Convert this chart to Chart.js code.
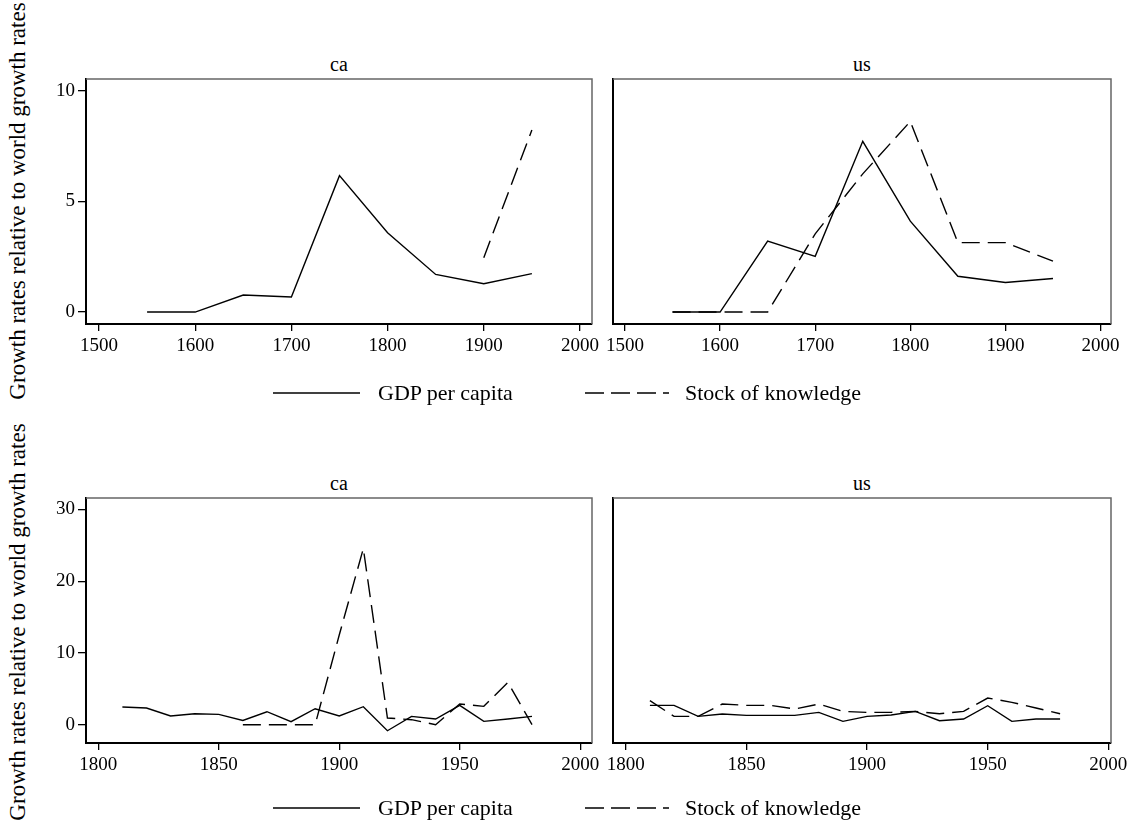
<!DOCTYPE html>
<html>
<head>
<meta charset="utf-8">
<script src="https://cdn.jsdelivr.net/npm/chart.js@4.4.1/dist/chart.umd.min.js"></script>
<style>
body { margin:0; background:#fff; width:1134px; height:825px; position:relative; overflow:hidden; font-family:'Liberation Serif','Times New Roman',serif; color:#000; }
canvas { position:absolute; }
.ptitle { position:absolute; font-size:20px; transform:translate(-50%,-50%); white-space:nowrap; }
.ytitle { position:absolute; font-size:23px; white-space:nowrap; transform:translate(-50%,-50%) rotate(-90deg); }
.leg { position:absolute; font-size:22px; transform:translateY(-50%); white-space:nowrap; }
svg { position:absolute; }
</style>
</head>
<body>
<div class="ytitle" style="left:18px;top:201px">Growth rates relative to world growth rates</div>
<div class="ytitle" style="left:18px;top:622px">Growth rates relative to world growth rates</div>

<div class="ptitle" style="left:339px;top:64px">ca</div>
<div class="ptitle" style="left:862px;top:64px">us</div>
<div class="ptitle" style="left:339px;top:483px">ca</div>
<div class="ptitle" style="left:862px;top:483px">us</div>

<canvas id="c1" width="576" height="297" style="left:30px;top:59px"></canvas>
<canvas id="c2" width="539" height="297" style="left:595px;top:59px"></canvas>
<canvas id="c3" width="576" height="297" style="left:30px;top:478px"></canvas>
<canvas id="c4" width="539" height="297" style="left:595px;top:478px"></canvas>

<svg width="1134" height="825" style="left:0;top:0;pointer-events:none">
  <line x1="273" y1="393" x2="360" y2="393" stroke="#000" stroke-width="1.5"/>
  <line x1="585" y1="393" x2="669" y2="393" stroke="#000" stroke-width="1.5" stroke-dasharray="19 7"/>
  <line x1="273" y1="808" x2="360" y2="808" stroke="#000" stroke-width="1.5"/>
  <line x1="585" y1="808" x2="669" y2="808" stroke="#000" stroke-width="1.5" stroke-dasharray="19 7"/>
</svg>
<div class="leg" style="left:378px;top:393px">GDP per capita</div>
<div class="leg" style="left:685px;top:393px">Stock of knowledge</div>
<div class="leg" style="left:378px;top:808px">GDP per capita</div>
<div class="leg" style="left:685px;top:808px">Stock of knowledge</div>

<script>
// top row: 50-year periods
var yearsTop = [1550, 1600, 1650, 1700, 1750, 1800, 1850, 1900, 1950];
var caGdpTop = [0, 0, 0.77, 0.68, 6.17, 3.59, 1.70, 1.28, 1.74];
var caKnowTop = [null, null, null, null, null, null, null, 2.46, 8.23];
var usGdpTop = [0, 0, 3.21, 2.52, 7.72, 4.11, 1.62, 1.34, 1.52];
var usKnowTop = [0, 0, 0, 3.54, 6.25, 8.62, 3.14, 3.14, 2.30];

// bottom row: decades
var yearsBot = [1810, 1820, 1830, 1840, 1850, 1860, 1870, 1880, 1890, 1900, 1910, 1920, 1930, 1940, 1950, 1960, 1970, 1980];
var caGdpBot = [2.47, 2.33, 1.21, 1.53, 1.44, 0.60, 1.81, 0.42, 2.23, 1.21, 2.51, -0.84, 1.16, 0.79, 2.70, 0.47, 0.80, 1.16];
var caKnowBot = [null, null, null, null, null, 0, 0, 0, 0, 12.5, 24.56, 0.93, 0.7, 0, 2.88, 2.56, 5.9, 0];
var usGdpBot = [2.69, 2.69, 1.16, 1.49, 1.30, 1.30, 1.30, 1.72, 0.47, 1.16, 1.35, 1.86, 0.56, 0.79, 2.65, 0.47, 0.79, 0.79];
var usKnowBot = [3.35, 1.16, 1.16, 2.88, 2.70, 2.70, 2.19, 2.88, 1.86, 1.72, 1.72, 1.86, 1.53, 1.86, 3.72, 3.12, 2.33, 1.53];

var xTicksTop = [1500, 1600, 1700, 1800, 1900, 2000];
var xTicksBot = [1800, 1850, 1900, 1950, 2000];
var yTicksTop = [0, 5, 10];
var yTicksBot = [0, 10, 20, 30];

Chart.defaults.font.family = '"Liberation Serif", "Times New Roman", serif';
var FONT = { family: '"Liberation Serif", "Times New Roman", serif', size: 19 };

function pts(xs, ys) {
    return xs.map(function (x, i) { return { x: x, y: ys[i] }; });
}

// grey top and right edges of the plot box
var boxEdges = {
    id: 'boxEdges',
    beforeDatasetsDraw: function (chart) {
        var a = chart.chartArea, ctx = chart.ctx;
        ctx.save();
        ctx.strokeStyle = '#666';
        ctx.lineWidth = 1.5;
        ctx.beginPath();
        ctx.moveTo(a.left, a.top);
        ctx.lineTo(a.right, a.top);
        ctx.lineTo(a.right, a.bottom);
        ctx.stroke();
        ctx.restore();
    }
};

function panel(id, p) {
    new Chart(document.getElementById(id), {
        type: 'line',
        data: {
            datasets: [
                { data: pts(p.xs, p.gdp), borderColor: '#000', borderWidth: 1.4, pointRadius: 0, tension: 0 },
                { data: pts(p.xs, p.know), borderColor: '#000', borderWidth: 1.4, pointRadius: 0, tension: 0, borderDash: [18, 8] }
            ]
        },
        options: {
            responsive: false,
            animation: false,
            layout: { padding: { top: 20, right: p.padR, left: 0, bottom: 0 } },
            plugins: { legend: { display: false }, tooltip: { enabled: false } },
            scales: {
                x: {
                    type: 'linear',
                    min: p.xMin, max: p.xMax,
                    afterBuildTicks: function (s) { s.ticks = p.xTicks.map(function (v) { return { value: v }; }); },
                    afterFit: function (s) { s.height = 32; },
                    ticks: { color: '#000', font: FONT, padding: 4, maxRotation: 0, autoSkip: false,
                        callback: function (v) { return String(v); } },
                    grid: { drawOnChartArea: false, drawTicks: true, tickLength: 7, color: '#000', lineWidth: 1.3 },
                    border: { display: true, color: '#000', width: 2 }
                },
                y: {
                    min: p.yMin, max: p.yMax,
                    afterBuildTicks: function (s) { s.ticks = p.yTicks.map(function (v) { return { value: v }; }); },
                    afterFit: function (s) { s.width = p.yW; },
                    ticks: { display: p.showY, color: '#000', font: FONT, padding: 3,
                        callback: function (v) { return String(v); } },
                    grid: { display: p.showY, drawOnChartArea: false, drawTicks: true, tickLength: 8, color: '#000', lineWidth: 1.3 },
                    border: { display: true, color: '#000', width: 2 }
                }
            }
        },
        plugins: [boxEdges]
    });
}

panel('c1', { xs: yearsTop, gdp: caGdpTop, know: caKnowTop, xMin: 1486.5, xMax: 2012.5, xTicks: xTicksTop,
    yMin: -0.54, yMax: 10.54, yTicks: yTicksTop, yW: 56, padR: 14, showY: true });
panel('c2', { xs: yearsTop, gdp: usGdpTop, know: usKnowTop, xMin: 1487.4, xMax: 2011, xTicks: xTicksTop,
    yMin: -0.54, yMax: 10.54, yTicks: yTicksTop, yW: 18, padR: 23, showY: false });
panel('c3', { xs: yearsBot, gdp: caGdpBot, know: caKnowBot, xMin: 1794.9, xMax: 2004.9, xTicks: xTicksBot,
    yMin: -2.55, yMax: 31.6, yTicks: yTicksBot, yW: 56, padR: 14, showY: true });
panel('c4', { xs: yearsBot, gdp: usGdpBot, know: usKnowBot, xMin: 1794.7, xMax: 2001.1, xTicks: xTicksBot,
    yMin: -2.55, yMax: 31.6, yTicks: yTicksBot, yW: 18, padR: 23, showY: false });
</script>
</body>
</html>
